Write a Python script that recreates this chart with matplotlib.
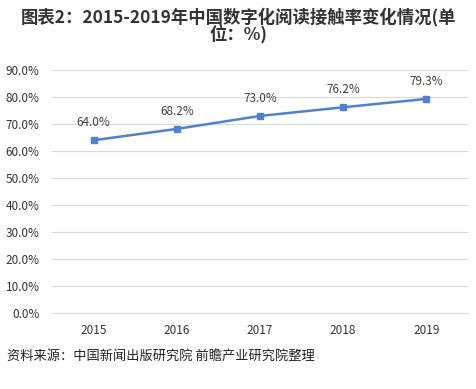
import matplotlib.pyplot as plt
from matplotlib.ticker import FuncFormatter

plt.rcParams['font.family'] = ['Noto Sans CJK SC', 'DejaVu Sans']

years = ["2015", "2016", "2017", "2018", "2019"]
rates = [64.0, 68.2, 73.0, 76.2, 79.3]
yticks = [0, 10, 20, 30, 40, 50, 60, 70, 80, 90]

fig = plt.figure(figsize=(4.77, 3.89), dpi=100)
ax = fig.add_axes([0.109, 0.195, 0.872, 0.625])

x = range(len(years))
ax.plot(x, rates, color="#4F81D0", linewidth=1.8, marker="s",
        markersize=5, markerfacecolor="#4F81D0", markeredgecolor="#4F81D0")
for i, v in zip(x, rates):
    ax.annotate(f"{v:.1f}%", (i, v), xytext=(0, 8), textcoords="offset points",
                ha="center", va="bottom", fontsize=8.5, color="#404040")

ax.set_xlim(-0.5, len(years) - 0.5)
ax.set_ylim(0, 90)
ax.set_yticks(yticks)
ax.yaxis.set_major_formatter(FuncFormatter(lambda v, p: f"{v:.1f}%"))
ax.set_xticks(list(x))
ax.set_xticklabels(years)
ax.grid(axis="y", color="#D9D9D9", linewidth=0.8)
ax.set_axisbelow(True)
for s in ["top", "right", "left"]:
    ax.spines[s].set_visible(False)
ax.spines["bottom"].set_color("#D9D9D9")
ax.tick_params(axis="both", length=0, labelsize=8.5, colors="#333333")
ax.tick_params(axis="y", pad=9)
ax.tick_params(axis="x", pad=8)

fig.text(0.5, 0.98, "图表2：2015-2019年中国数字化阅读接触率变化情况(单\n位：%)",
         ha="center", va="top", fontsize=12.5, fontweight="bold",
         color="#333333", linespacing=0.9)
fig.text(0.015, 0.085, "资料来源：中国新闻出版研究院 前瞻产业研究院整理",
         ha="left", va="center", fontsize=9.5, color="#222222")

fig.savefig("out.png", dpi=100)
